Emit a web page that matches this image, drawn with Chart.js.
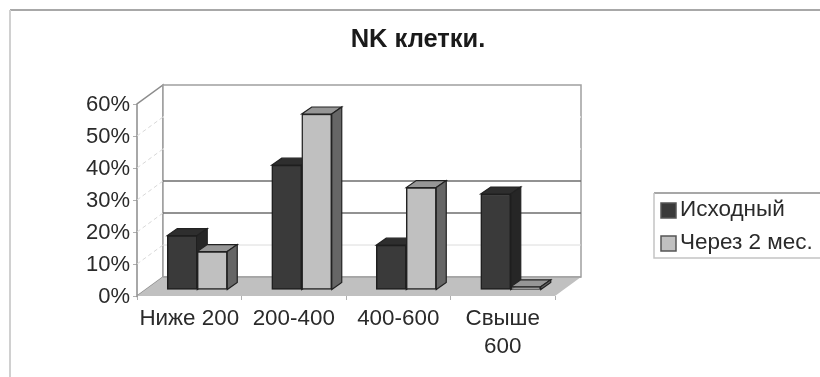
<!DOCTYPE html>
<html>
<head>
<meta charset="utf-8">
<title>NK клетки.</title>
<script src="https://cdn.jsdelivr.net/npm/chart.js@4/dist/chart.umd.min.js"></script>
<style>
    html, body { margin: 0; padding: 0; background: #fff; overflow: hidden; }
    #wrap { width: 820px; height: 377px; }
</style>
</head>
<body>
<div id="wrap"><canvas id="chart" width="820" height="377"></canvas></div>
<script>
// chart data
const categories = ["Ниже 200", "200-400", "400-600", ["Свыше", "600"]];
const baseline = [17, 39, 14, 30];
const afterTwoMonths = [12, 55, 32, 1];
const seriesNames = ["Исходный", "Через 2 мес."];
const yTicks = [0, 10, 20, 30, 40, 50, 60];

const FONT = "'Liberation Sans', Arial, sans-serif";

// wall depth, and where the bars stand between front edge and back wall
const wallDepth = { x: 26, y: -19 };
const barShift = { x: 8, y: -6 };
const barDepth = { x: 10, y: -7 };

function poly(ctx, pts, fill, stroke, width) {
    ctx.beginPath();
    pts.forEach((p, i) => i ? ctx.lineTo(p[0], p[1]) : ctx.moveTo(p[0], p[1]));
    ctx.closePath();
    if (fill) {
        ctx.fillStyle = fill;
        ctx.fill();
    }
    if (stroke) {
        ctx.strokeStyle = stroke;
        ctx.lineWidth = width || 1;
        ctx.stroke();
    }
}

// back wall, side wall, floor, outer frame and legend
const walls = {
    id: "walls",
    afterLayout(chart) {
        // title is centred over the whole frame, not just the plot
        chart.titleBlock.left = 16;
        chart.titleBlock.right = 820;
    },
    beforeDatasetsDraw(chart) {
        const { ctx, chartArea: a, scales } = chart;
        const dx = wallDepth.x, dy = wallDepth.y;
        ctx.save();

        // outer frame
        ctx.strokeStyle = "#a8a8a8";
        ctx.lineWidth = 2;
        ctx.beginPath();
        ctx.moveTo(820, 10);
        ctx.lineTo(10, 10);
        ctx.stroke();
        ctx.strokeStyle = "#d0d0d0";
        ctx.beginPath();
        ctx.moveTo(10, 10);
        ctx.lineTo(10, 377);
        ctx.stroke();

        poly(ctx, [[a.left, a.bottom], [a.left + dx, a.bottom + dy], [a.left + dx, a.top + dy], [a.left, a.top]], "#fff", "#8c8c8c", 1.5);
        poly(ctx, [[a.left + dx, a.top + dy], [a.right + dx, a.top + dy], [a.right + dx, a.bottom + dy], [a.left + dx, a.bottom + dy]], "#fff", "#a0a0a0", 1.5);

        // grid on the back and side walls
        yTicks.slice(1, -1).forEach(v => {
            const y = scales.y.getPixelForValue(v);
            const dark = v === 20 || v === 30;
            ctx.strokeStyle = dark ? "#6e6e6e" : (v === 10 ? "#dcdcdc" : "#ffffff");
            ctx.lineWidth = dark ? 1.5 : 1;
            ctx.beginPath();
            ctx.moveTo(a.left + dx, y + dy);
            ctx.lineTo(a.right + dx, y + dy);
            ctx.stroke();
            ctx.strokeStyle = "#d8d8d8";
            ctx.lineWidth = 1;
            ctx.setLineDash([4, 3]);
            ctx.beginPath();
            ctx.moveTo(a.left, y);
            ctx.lineTo(a.left + dx, y + dy);
            ctx.stroke();
            ctx.setLineDash([]);
        });

        poly(ctx, [[a.left, a.bottom], [a.right, a.bottom], [a.right + dx, a.bottom + dy], [a.left + dx, a.bottom + dy]], "#c0c0c0");
        ctx.strokeStyle = "#a0a0a0";
        ctx.lineWidth = 1.5;
        ctx.beginPath();
        ctx.moveTo(a.left + dx, a.bottom + dy);
        ctx.lineTo(a.right + dx, a.bottom + dy);
        ctx.stroke();

        // legend
        poly(ctx, [[654, 193], [820, 193], [820, 258], [654, 258]], "#fff");
        ctx.strokeStyle = "#8a8a8a";
        ctx.lineWidth = 1.5;
        ctx.beginPath();
        ctx.moveTo(820, 193);
        ctx.lineTo(654, 193);
        ctx.stroke();
        ctx.strokeStyle = "#c4c4c4";
        ctx.beginPath();
        ctx.moveTo(654, 193);
        ctx.lineTo(654, 258);
        ctx.lineTo(820, 258);
        ctx.stroke();
        ctx.textBaseline = "middle";
        ctx.textAlign = "left";
        ctx.font = "22.5px " + FONT;
        chart.data.datasets.forEach((ds, i) => {
            const y = 210 + i * 33;
            ctx.fillStyle = ds.backgroundColor;
            ctx.strokeStyle = "#555";
            ctx.lineWidth = 1.5;
            ctx.fillRect(661, y - 7, 15, 15);
            ctx.strokeRect(661, y - 7, 15, 15);
            ctx.fillStyle = "#2a2a2a";
            ctx.fillText(seriesNames[i], 680, y);
        });

        // tops and sides of the bars, left series first; the library paints the fronts after
        ctx.translate(barShift.x, barShift.y);
        chart.data.datasets.forEach((ds, i) => {
            chart.getDatasetMeta(i).data.forEach(bar => {
                const l = bar.x - bar.width / 2, r = bar.x + bar.width / 2;
                const t = bar.y, b = bar.base;
                const ox = barDepth.x, oy = barDepth.y;
                poly(ctx, [[l, t], [r, t], [r + ox, t + oy], [l + ox, t + oy]], ds.topColor, "#222", 1.2);
                poly(ctx, [[r, t], [r + ox, t + oy], [r + ox, b + oy], [r, b]], ds.sideColor, "#222", 1.2);
            });
        });
        ctx.restore();
    },
    beforeDatasetDraw(chart) {
        chart.ctx.save();
        chart.ctx.translate(barShift.x, barShift.y);
    },
    afterDatasetDraw(chart) {
        chart.ctx.restore();
    }
};

new Chart(document.getElementById("chart"), {
    type: "bar",
    data: {
        labels: categories,
        datasets: [
            {
                label: seriesNames[0],
                data: baseline,
                backgroundColor: "#3a3a3a",
                topColor: "#2e2e2e",
                sideColor: "#262626",
                borderColor: "#1e1e1e",
                borderWidth: 1.5,
                borderSkipped: false,
                barThickness: 30,
                clip: false
            },
            {
                label: seriesNames[1],
                data: afterTwoMonths,
                backgroundColor: "#c0c0c0",
                topColor: "#969696",
                sideColor: "#666666",
                borderColor: "#222222",
                borderWidth: 1.5,
                borderSkipped: false,
                barThickness: 30,
                clip: false
            }
        ]
    },
    plugins: [walls],
    options: {
        responsive: false,
        animation: false,
        layout: { padding: { left: 16, right: 265, top: 0, bottom: 0 } },
        plugins: {
            legend: { display: false },
            tooltip: { enabled: false },
            title: {
                display: true,
                text: "NK клетки.",
                color: "#1a1a1a",
                font: { family: FONT, size: 25.5, weight: "bold" },
                padding: { top: 25, bottom: 48.4 }
            }
        },
        scales: {
            x: {
                afterFit: s => { s.height = 81; },
                border: { display: false },
                grid: { drawOnChartArea: false, drawTicks: true, tickLength: 4, color: "#b0b0b0" },
                ticks: {
                    color: "#2a2a2a",
                    maxRotation: 0,
                    padding: 5,
                    font: { family: FONT, size: 22.4, lineHeight: 1.25 }
                }
            },
            y: {
                min: 0,
                max: 60,
                afterFit: s => { s.width = 121; },
                afterBuildTicks: s => { s.ticks = yTicks.map(value => ({ value })); },
                border: { display: false },
                grid: { drawOnChartArea: false, drawTicks: true, tickLength: 4, color: "#b0b0b0" },
                ticks: {
                    color: "#2a2a2a",
                    padding: 3,
                    labelOffset: 1,
                    callback: v => v + "%",
                    font: { family: FONT, size: 22 }
                }
            }
        }
    }
});
</script>
</body>
</html>
